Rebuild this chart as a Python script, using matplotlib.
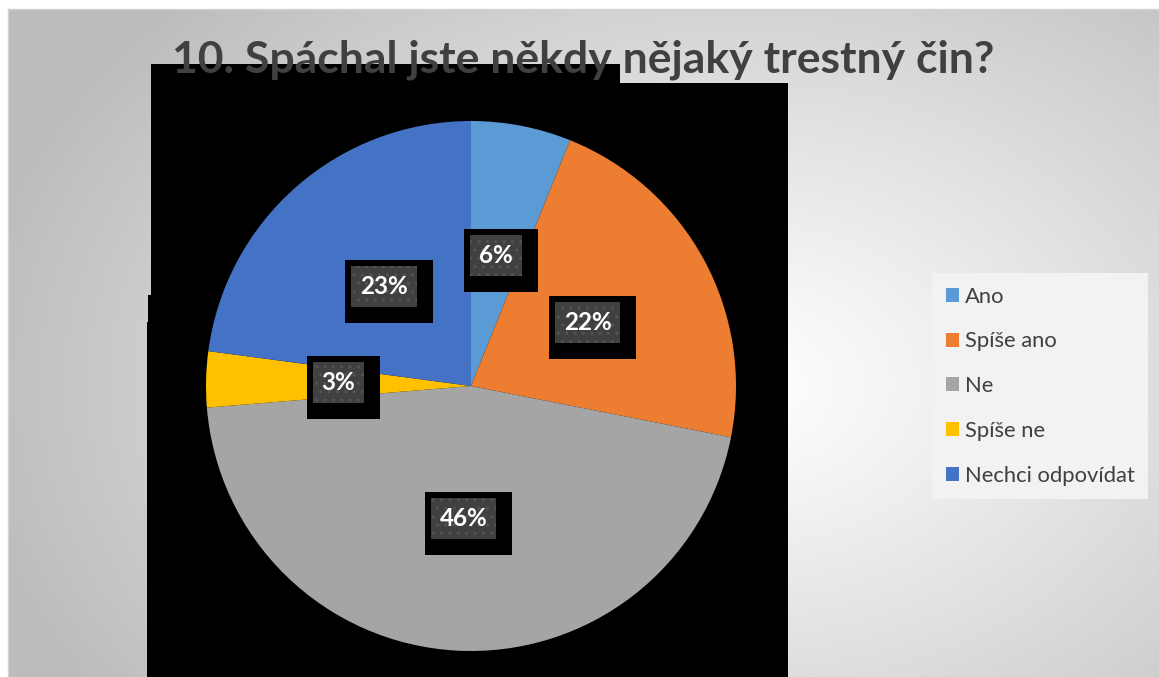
import numpy as np
import matplotlib
matplotlib.use('Agg')
import matplotlib.pyplot as plt
from matplotlib.patches import Rectangle, Polygon

# ---- data ----
categories = ["Ano", "Spíše ano", "Ne", "Spíše ne", "Nechci odpovídat"]
values = [6.1, 22.0, 45.6, 3.4, 22.9]
colors = ["#5B9BD5", "#ED7D31", "#A5A5A5", "#FFC000", "#4472C4"]
title = "10. Spáchal jste někdy nějaký trestný čin?"

W, H = 1159, 677
fig = plt.figure(figsize=(W / 100, H / 100), dpi=100)
fig.patch.set_facecolor('white')

# ---- background (slide gradient + black artefacts) ----
bg = fig.add_axes([0, 0, 1, 1])
bg.set_xlim(0, W)
bg.set_ylim(H, 0)
bg.axis('off')
yy, xx = np.mgrid[0:H, 0:W]
cx, cy = 740, 380
d = np.sqrt(((xx - cx) / 780.0) ** 2 + ((yy - cy) / 560.0) ** 2)
d = np.clip(d, 0, 1)
v = 1.0 - 0.26 * d ** 1.1
img = np.dstack([v, v, v])
bg.imshow(img, extent=(8, W, H, 9), aspect='auto', zorder=0, interpolation='bilinear')
bg.plot([8, 8], [9, H], color='#d4d4d4', lw=1, zorder=1)
bg.plot([8, W], [9, 9], color='#d4d4d4', lw=1, zorder=1)

black_poly = [(151, 64), (620, 64), (620, 83), (788, 83), (788, 677),
              (147, 677), (147, 322), (148, 322), (148, 295), (151, 295)]
bg.add_patch(Polygon(black_poly, closed=True, facecolor='black', edgecolor='none', zorder=2))

# ---- pie ----
R = 265
ax = fig.add_axes([(471 - R) / W, (H - 386 - R) / H, 2 * R / W, 2 * R / H])
wedges, texts, autotexts = ax.pie(values, colors=colors, startangle=90, counterclock=False,
                                  autopct='%1.0f%%', pctdistance=0.5,
                                  wedgeprops=dict(linewidth=0))
ax.set_xlim(-1, 1)
ax.set_ylim(-1, 1)
ax.set_aspect('equal')
ax.axis('off')

for t in autotexts:
    t.set_color('white')
    t.set_fontweight('bold')
    t.set_fontfamily('Lato')
    t.set_fontsize(17.5)
    t.set_zorder(6)

fig.canvas.draw()
renderer = fig.canvas.get_renderer()
inv = ax.transData.inverted()
for t in autotexts:
    bb = t.get_window_extent(renderer)
    xc, yc = ax.transData.transform(t.get_position())
    tw = bb.width
    iw, ih = tw + 18, 41
    # inner box (display coords, y up)
    ix0, iy0 = xc - iw / 2, yc - ih / 2
    # outer box: 6 px left/top, 16 px right/bottom
    ox0, oy0 = ix0 - 6, iy0 - 16
    ow, oh = iw + 22, ih + 22
    p0 = inv.transform((ox0, oy0)); p1 = inv.transform((ox0 + ow, oy0 + oh))
    ax.add_patch(Rectangle(p0, p1[0] - p0[0], p1[1] - p0[1], facecolor='black',
                           edgecolor='none', zorder=4))
    q0 = inv.transform((ix0, iy0)); q1 = inv.transform((ix0 + iw, iy0 + ih))
    ax.add_patch(Rectangle(q0, q1[0] - q0[0], q1[1] - q0[1], facecolor='#404040',
                           edgecolor='#545454', hatch='..', linewidth=0, zorder=5))

# ---- title ----
fig.text(583 / W, 1 - 60 / H, title, ha='center', va='center', fontsize=32,
         fontweight='bold', color='#404040', family='Lato', zorder=10)

# ---- legend ----
leg = fig.legend(wedges, categories, loc='upper left',
                 bbox_to_anchor=(932 / W, 1 - 273 / H),
                 frameon=True, fancybox=False, facecolor='#f2f2f2', edgecolor='none',
                 framealpha=1, prop={'family': 'Lato', 'size': 15.8},
                 handlelength=0.6, handleheight=0.6, handletextpad=0.27,
                 labelspacing=1.13, borderpad=0.62, borderaxespad=0)
for txt in leg.get_texts():
    txt.set_color('#404040')

fig.savefig('out.png', dpi=100, facecolor=fig.get_facecolor())
